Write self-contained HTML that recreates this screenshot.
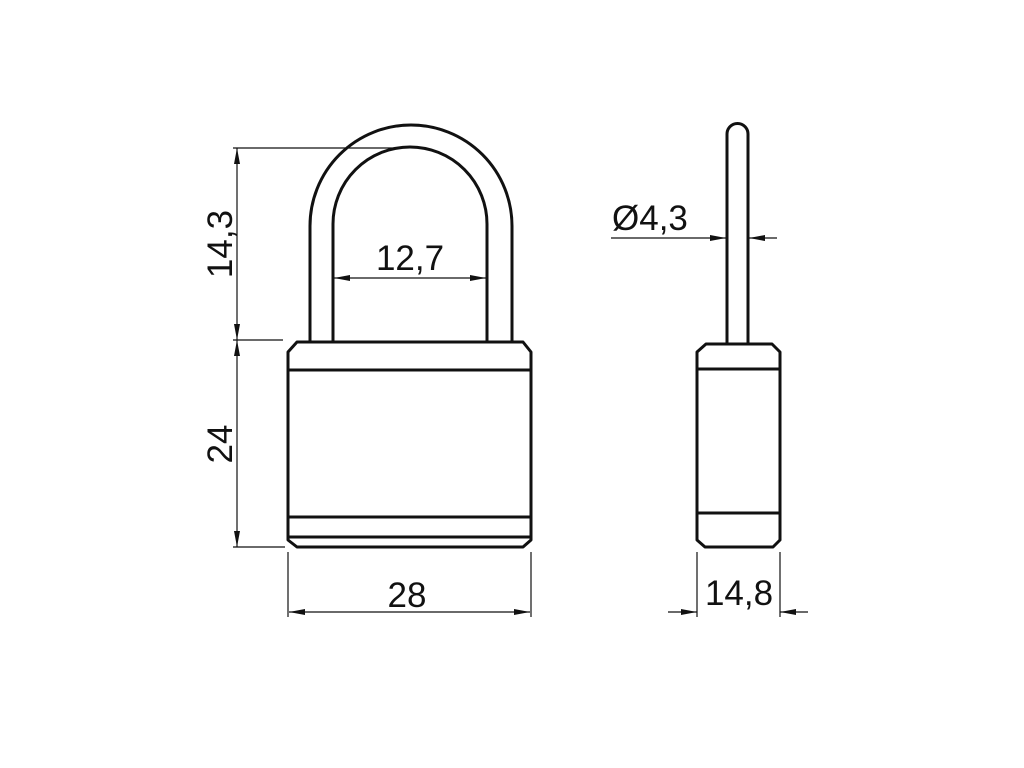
<!DOCTYPE html>
<html><head><meta charset="utf-8"><style>
html,body{margin:0;padding:0;background:#fff;}
svg{display:block;}
text{font-family:"Liberation Sans",sans-serif;font-size:35px;fill:#111;}
</style></head><body>
<svg width="1024" height="768" viewBox="0 0 1024 768" xmlns="http://www.w3.org/2000/svg">
<defs>
<marker id="a" viewBox="0 0 16 6" refX="16" refY="3" markerWidth="16" markerHeight="6" markerUnits="userSpaceOnUse" orient="auto">
<path d="M0,0 L16,3 L0,6 Z" fill="#111"/></marker>
</defs>
<g fill="none" stroke="#111" stroke-width="3" stroke-linejoin="round">
<!-- shackle front -->
<path d="M310,341 L310,226 A101,101 0 0 1 512,226 L512,341"/>
<path d="M333,341 L333,224 A77,77 0 0 1 487,224 L487,341"/>
<!-- body front -->
<path d="M297,342 L523,342 L531,352 L531,540 L523,547 L297,547 L288,540 L288,352 Z"/>
<line x1="288" y1="370" x2="531" y2="370"/>
<line x1="288" y1="517" x2="531" y2="517"/>
<line x1="288" y1="537" x2="531" y2="537"/>
<!-- side rod -->
<path d="M727,344 L727,134 A10.5,10.5 0 0 1 748,134 L748,344"/>
<!-- side body -->
<path d="M706,344 L772,344 L780,352 L780,540 L773,547 L705,547 L697,540 L697,352 Z"/>
<line x1="697" y1="369" x2="780" y2="369"/>
<line x1="697" y1="513" x2="780" y2="513"/>
</g>
<g stroke="#111" stroke-width="1.2" fill="none">
<!-- 14,3 / 24 -->
<line x1="233" y1="148" x2="395" y2="148"/>
<line x1="233" y1="340" x2="283" y2="340"/>
<line x1="233" y1="547" x2="285" y2="547"/>
<line x1="237" y1="244" x2="237" y2="148" marker-end="url(#a)"/>
<line x1="237" y1="244" x2="237" y2="340" marker-end="url(#a)"/>
<line x1="237" y1="444" x2="237" y2="340" marker-end="url(#a)"/>
<line x1="237" y1="444" x2="237" y2="547" marker-end="url(#a)"/>
<!-- 12,7 -->
<line x1="410" y1="278" x2="334" y2="278" marker-end="url(#a)"/>
<line x1="410" y1="278" x2="486" y2="278" marker-end="url(#a)"/>
<!-- 28 -->
<line x1="288" y1="552" x2="288" y2="617"/>
<line x1="531" y1="552" x2="531" y2="617"/>
<line x1="410" y1="612" x2="289" y2="612" marker-end="url(#a)"/>
<line x1="410" y1="612" x2="530" y2="612" marker-end="url(#a)"/>
<!-- 14,8 -->
<line x1="697" y1="552" x2="697" y2="617"/>
<line x1="780" y1="552" x2="780" y2="617"/>
<line x1="668" y1="612" x2="697" y2="612" marker-end="url(#a)"/>
<line x1="808" y1="612" x2="780" y2="612" marker-end="url(#a)"/>
<!-- Ø4,3 -->
<line x1="611" y1="238" x2="726" y2="238" marker-end="url(#a)"/>
<line x1="777" y1="238" x2="749" y2="238" marker-end="url(#a)"/>
</g>
<text x="410" y="270" text-anchor="middle">12,7</text>
<text x="407" y="607" text-anchor="middle">28</text>
<text x="739" y="605" text-anchor="middle">14,8</text>
<text x="612" y="230">Ø4,3</text>
<text transform="translate(232,244) rotate(-90)" text-anchor="middle">14,3</text>
<text transform="translate(232,444) rotate(-90)" text-anchor="middle">24</text>
</svg>
</body></html>
